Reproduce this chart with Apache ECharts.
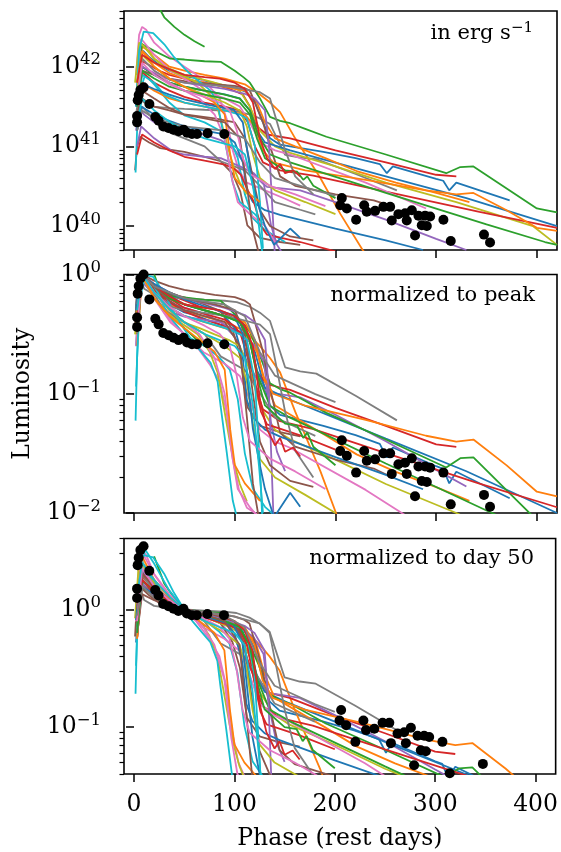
<!DOCTYPE html>
<html><head><meta charset="utf-8">
<script src="https://cdn.jsdelivr.net/npm/echarts@6/dist/echarts.min.js"></script>
<style>html,body{margin:0;padding:0;background:#fff}#c{width:561px;height:852px}</style>
</head><body><div id="c"></div>
<script>
// ---------------- DATA (luminosity in units of 1e40 erg/s, phase in rest days) ----------------
const lumUnitExp = 40;
const sn01 = [[2,39.8],[6,141],[9,158],[15,132],[25,105],[35,89],[50,76],[60,72.4],[72,66],[85,60],[100,55],[112,47.9],[120,35.5],[128,20],[135,12.6],[145,10.5],[155,10],[188,8.5],[220,7.1],[244,6.0],[251,4.6],[257,5.6],[300,3.9],[307,3.7],[313,2.8],[320,3.5],[373,2.1]];
const sn02 = [[3,50],[8,178],[15,158],[25,126],[35,100],[50,89],[70,79],[90,71],[110,60],[125,44.7],[135,35.5],[145,26.9],[160,12.6],[185,4.0],[205,1.41],[227,0.5],[240,0.32]];
const sn03 = [[20,708],[30,417],[40,316],[50,251],[60,209],[70,178]];
const sn04 = [[3,39.8],[8,117],[15,105],[25,89],[35,79],[50,71],[65,63],[80,60],[95,52.5],[108,44.7],[115,31.6],[122,17.8],[132,14.1],[145,13.2],[155,12.6],[200,8.9],[250,6.3],[300,4.4],[320,4.2]];
const sn05 = [[2,15.8],[5,30],[10,25],[20,20],[36,17],[50,15.8],[70,14],[86,12],[100,9],[108,6.5],[122,4.0],[132,3.1],[165,2.8],[200,2.0],[250,1.2],[300,0.69],[330,0.5]];
const sn06 = [[1,5.0],[3,10],[6,13.2],[15,11.2],[26,9.5],[40,8.9],[50,8.5],[70,7.4],[86,6.5],[98,4.5],[105.5,2.7],[112.5,1.02],[125,0.71],[145,0.63],[165,0.58]];
const sn07 = [[2,79],[5,251],[8,316],[12,290],[20,200],[35,135],[50,100],[62,79],[75,56],[85,40],[92,22],[98,8.9],[104,5.0],[112,3.5],[130,2.8],[150,2.2],[165,1.8]];
const sn08 = [[2,25],[5,46.8],[10,35.5],[20,31.6],[35,30.2],[50,29.5],[70,28.8],[90,28.2],[102,27.5],[115,25.1],[125,22.4],[135,19.1],[142,12.6],[150,7.8],[165,7.2],[181,6.9],[220,4.5],[261,2.8]];
const sn09 = [[3,63],[7,200],[20,126],[35,95],[50,79],[65,71],[80,63],[95,56],[105,50],[115,31.6],[125,15.8],[140,10],[155,8.3],[200,5.6],[250,3.5],[320,2.0],[396,1.0],[420,0.58]];
const sn10 = [[1.5,4.7],[3,15.8],[6,50],[11,79],[20,60],[35,35.5],[50,24.5],[70,20],[85,15.8],[95,12.6],[103,7.1],[110,2.5],[118,1.26],[130,0.89],[150,0.63]];
const sn11 = [[3,31.6],[8,100],[20,79],[35,63],[50,56],[70,50],[90,45],[105,40],[115,28.2],[122,15.8],[130,11.2],[155,8.9],[250,4.2],[330,2.24],[420,1.0]];
const sn12 = [[3,39.8],[8,158],[20,112],[35,83],[50,71],[70,63],[90,56],[110,50],[122,35.5],[130,20],[140,12.6],[160,10],[190,7.1],[221,4.9],[260,3.5],[300,2.6],[333,2.0]];
const sn13 = [[3,79],[8,191],[20,158],[36,126],[50,123],[70,117],[86,115],[100,89],[108.5,74],[115,63],[125,40],[135,23.4],[145,20.9],[155,19.5],[170,16.6],[191,13.2],[250,7.9],[310,4.6],[324,5.5],[337,5.6],[400,1.66],[420,1.48]];
const sn14 = [[3,31.6],[8,85],[20,63],[35,50],[50,41.7],[70,35.5],[90,31.6],[105,28.2],[113,20],[120,10],[128,6.3],[145,5.0],[178,4.3],[250,2.7],[343,1.5],[420,0.95]];
const sn15 = [[3,10],[7,17.8],[20,12.6],[39,8.5],[50,7.9],[70,7.4],[86,7.1],[105,5.6],[119,4.6],[129,3.3],[136,1.02],[142,0.58],[150,0.4]];
const sn16 = [[3,39.8],[8,89],[20,79],[35,71],[50,66],[65,63],[80,60],[100,57.5],[110,53.7],[115,50],[120,35.5],[128,20],[135,10],[145,4.2],[160,3.2],[200,2.5],[238,2.1],[258,1.74]];
const sn17 = [[3,79],[7,224],[20,141],[36,89],[50,71],[69,50],[90,40],[105,31.6],[115,20],[125,11.2],[140,8.9],[155,7.9],[230,3.5],[290,1.66]];
const sn18 = [[3,15.8],[8,31.6],[30,15.8],[50,12.6],[70,10],[86,6.5],[110,5.0],[125,3.2],[140,2.0],[165,1.6],[180,1.4]];
const sn19 = [[1,63],[5,200],[10,180],[20,126],[30,100],[40,85],[50,75],[63,63],[75,45],[83,30],[90,14],[95,8],[100,5.0],[105,3.5],[112,2.5]];
const sn20 = [[2,31.6],[5,158],[9.5,275],[19,263],[30,191],[39,135],[50,95],[59,74],[70,57.5],[76,50],[83,34.7],[86,21.4],[92,8.9],[98,3.5],[105,2.0],[120,1.41],[130,1.0]];
const sn21 = [[3,15.8],[7,31.6],[20,25.1],[35,20.9],[50,17.8],[70,15.8],[90,14.1],[100,11.2],[108,6.3],[112,2.8],[118,2.0],[130,1.58],[145,1.38],[200,0.93],[250,0.66],[287,0.5]];
const sn22 = [[3,20],[8,63],[20,50],[35,40],[50,35.5],[70,31.6],[90,28.2],[110,25.1],[120,17.8],[128,8.9],[138,6.3],[170,5.0],[230,3.8],[290,2.8],[320,2.5],[337,2.6],[370,1.58],[400,0.95],[420,0.87]];
const sn23 = [[3,39.8],[8,100],[20,79],[35,63],[50,56],[70,50],[90,44.7],[105,39.8],[115,28.2],[123,14.1],[135,7.9],[155,6.3],[250,2.6],[350,1.05],[408,0.63],[420,0.58]];
const sn24 = [[3,7.9],[8,14.1],[20,11.2],[35,8.9],[50,7.4],[70,6.6],[90,5.9],[100,5.2],[106,4.4],[113,2.8],[119,2.0],[126,1.0],[132,0.78],[165,0.63],[200,0.48]];
const sn25 = [[3,39.8],[8,100],[20,83],[35,71],[50,63],[70,57.5],[90,52.5],[110,45.7],[120,39.8],[130,28.2],[134,10],[137,2.0],[140,0.4]];
const sn26 = [[3,25.1],[8,39.8],[20,31.6],[35,28.2],[50,25.1],[80,22.4],[100,20],[110,12.6],[118,4.0],[125,1.58],[135,1.0],[155,0.74],[178,0.66]];
const sn27 = [[3,50],[8,126],[20,89],[35,63],[50,50],[65,39.8],[80,25.1],[90,12.6],[97,4.0],[103,2.0],[115,1.41],[130,1.0],[140,0.63]];
const sn28 = [[3,39.8],[8,126],[20,89],[36,67.6],[50,63],[70,60],[95,56],[125,47.9],[135,39.8],[142,20],[150,8.9],[160,4.2],[178,2.5]];
const sn29 = [[3,50],[8,141],[20,100],[35,71],[50,56],[70,44.7],[90,35.5],[105,28.2],[112,17.8],[118,7.9],[125,4.0],[140,2.8],[170,2.0],[200,1.41]];
const sn30 = [[3,31.6],[8,79],[20,63],[30,44.7],[50,35.5],[70,31.6],[90,28.2],[105,25.1],[112,22.4],[120,10],[125,2.0],[128,0.52]];
const sn31 = [[2,31.6],[5,63],[20,52.5],[35,44.7],[50,38.9],[75,33],[99,28.8],[108,20],[113,7.9],[118,3.2],[125,1.58],[130,1.0],[139,0.58],[155,0.93],[165,0.71]];
const sn32 = [[3,63],[8,158],[20,100],[35,71],[50,56],[65,44.7],[80,35.5],[90,25.1],[95.5,7.9],[100,4.0],[110,2.8],[125,2.0]];
const sn33 = [[3,31.6],[8,89],[20,71],[35,56],[50,50],[70,44.7],[90,39.8],[105,35.5],[115,25.1],[122,12.6],[130,7.1],[150,5.0],[162,4.8],[168,3.8],[172,4.2],[178,3.2],[200,2.24]];
const sn34 = [[3,63],[8,141],[20,112],[35,93],[50,79],[70,74],[85,71],[100,63],[110,52.5],[118,35.5],[125,12.6],[132,7.1],[140,5.2],[145,6.0],[150,4.6],[158,5.0],[165,4.2]];
const sn35 = [[3,25.1],[8,50],[20,39.8],[35,30.2],[50,25.1],[70,22.4],[90,20],[105,12.6],[112,3.2],[118,0.89],[124,0.45]];
const sn36 = [[3,39.8],[8,112],[20,79],[35,60],[50,50],[70,41.7],[85,35.5],[95,28.2],[102,15.8],[108,7.1],[115,4.5],[135,3.2],[160,2.5],[190,1.78]];
const sn37 = [[3,15.8],[8,28.2],[20,22.4],[50,17.8],[90,15.8],[110,12.6],[125,6.3],[140,4.0],[180,2.8],[200,2.4]];
const sn38 = [[3,20],[8,39.8],[20,28.2],[36,20],[50,15.8],[70,12.6],[85,11.2],[100,10],[110,7.9],[118,3.2],[124,1.0],[128,0.4]];

// black points (highlighted object)
const dotPhase = [3.0,3.0,3.6,4.6,6.3,9.5,15.2,21.1,24.4,29,34.3,39.3,44.2,49.2,52.6,57.5,62.5,73,89.6,
  206.3,204.7,211.3,220.5,228.5,231.1,239.4,247.6,254.3,255.9,262.5,269.1,270.8,275.8,279,282.4,285.7,289,290.7,294,307.2,314.5,347.5,353.5];
const dotLum = [20,24,38,44,51,55,34,23.4,21,17.8,17,16.2,15.5,16.2,14.8,14.3,14.3,14.6,14.3,
  2.24,1.82,1.66,1.2,1.82,1.51,1.55,1.74,1.74,1.17,1.41,1.45,1.17,1.58,0.76,1.35,1.02,1.35,1.0,1.32,1.2,0.65,0.78,0.62];
const dotLumDay50 = 16;
const normDay = 50;

// axis tick values
const xTicks = [0, 100, 200, 300, 400];
const p1Major = [1, 10, 100];
const p1Minor = [0.5,0.6,0.7,0.8,0.9,2,3,4,5,6,7,8,9,20,30,40,50,60,70,80,90,200,300,400,500];
const p2Major = [0.01, 0.1, 1];
const p2Minor = [0.02,0.03,0.04,0.05,0.06,0.07,0.08,0.09,0.2,0.3,0.4,0.5,0.6,0.7,0.8,0.9];
const p3Major = [0.1, 1];
const p3Minor = [0.04,0.05,0.06,0.07,0.08,0.09,0.2,0.3,0.4,0.5,0.6,0.7,0.8,0.9,2,3,4];

// ---------------- STYLE ----------------
const tab10 = {blue:'#1f77b4',orange:'#ff7f0e',green:'#2ca02c',red:'#d62728',purple:'#9467bd',brown:'#8c564b',pink:'#e377c2',gray:'#7f7f7f',olive:'#bcbd22',cyan:'#17becf'};
const cycle = ['blue','orange','green','red','purple','brown','pink','gray','olive','cyan'];
const curves = [sn01,sn02,sn03,sn04,sn05,sn06,sn07,sn08,sn09,sn10,sn11,sn12,sn13,sn14,sn15,sn16,sn17,sn18,sn19,sn20,
  sn21,sn22,sn23,sn24,sn25,sn26,sn27,sn28,sn29,sn30,sn31,sn32,sn33,sn34,sn35,sn36,sn37,sn38];
const curveColorNames = cycle.concat(cycle, cycle, ['blue','orange','green','red','brown','pink','gray','cyan']);

const FONT = 'DejaVu Serif';
const LBL = 23.5, SUP = 16.5, ANN = 21;

const chart = echarts.init(document.getElementById('c'), null, {renderer:'canvas'});

const grids = [
  {left:124, top:11, width:433, height:239},
  {left:124, top:274.5, width:433, height:238.5},
  {left:124, top:538.5, width:433, height:239}
].map(g => Object.assign(g, {show:true, borderColor:'#000', borderWidth:1.6, backgroundColor:'transparent', containLabel:false}));

function supLabel(exp) {
  const e = String(exp).replace('-', '\u2212');
  return '{b|10}{s|' + e + '}';
}
const richSup = {
  b: {fontFamily: FONT, fontSize: LBL, lineHeight: 30, color: '#000'},
  s: {fontFamily: FONT, fontSize: SUP, lineHeight: 11, verticalAlign: 'top', color: '#000'}
};

const xAxes = [0,1,2].map(g => ({
  type:'value', gridIndex:g, min:-10, max:420,
  axisLine:{show:false}, splitLine:{show:false},
  axisTick:{show:true, customValues:xTicks, length:8, lineStyle:{color:'#000', width:1.5}},
  axisLabel:{show: g===2, customValues:xTicks, margin:19, fontFamily:FONT, fontSize:LBL, lineHeight:24, color:'#000'},
  name: g===2 ? 'Phase (rest days)' : '', nameLocation:'middle', nameGap:53,
  nameTextStyle:{fontFamily:FONT, fontSize:LBL, lineHeight:24, color:'#000'}
}));

const yDefs = [
  {min:0.5, max:500, major:p1Major, minor:p1Minor, expOffset:lumUnitExp},
  {min:0.01, max:1, major:p2Major, minor:p2Minor, expOffset:0},
  {min:0.04, max:4, major:p3Major, minor:p3Minor, expOffset:0}
];
const yAxes = [];
yDefs.forEach((d, g) => {
  yAxes.push({
    type:'log', logBase:10, gridIndex:g, position:'left', min:d.min, max:d.max,
    axisLine:{show:false}, splitLine:{show:false},
    axisTick:{show:true, customValues:d.major, length:8, lineStyle:{color:'#000', width:1.5}},
    axisLabel:{show:true, customValues:d.major, margin:23, align:'right',
      formatter: v => supLabel(Math.round(Math.log10(v)) + d.expOffset), rich: richSup},
    name: g===1 ? 'Luminosity' : '', nameLocation:'middle', nameGap:89, nameRotate:90,
    nameTextStyle:{fontFamily:FONT, fontSize:LBL, color:'#000'}
  });
  yAxes.push({
    type:'log', logBase:10, gridIndex:g, position:'left', min:d.min, max:d.max,
    axisLine:{show:false}, splitLine:{show:false},
    axisTick:{show:true, customValues:d.minor, length:4.5, lineStyle:{color:'#000', width:1.2}},
    axisLabel:{show:false}
  });
});

function peakOf(c) { return Math.max.apply(null, c.map(p => p[1])); }
function dayValueOf(c, day) { const p = c.find(q => q[0] === day); return p ? p[1] : null; }

const series = [];
[0,1,2].forEach(g => {
  curves.forEach((c, i) => {
    let ref = 1;
    if (g === 1) ref = peakOf(c);
    if (g === 2) ref = dayValueOf(c, normDay);
    const col = tab10[curveColorNames[i]];
    series.push({
      type:'line', xAxisIndex:g, yAxisIndex:2*g, showSymbol:false, symbol:'none',
      data: c.map(p => [p[0], p[1] / ref]),
      lineStyle:{width:1.8, color:col}, itemStyle:{color:col},
      silent:true, clip:true, z:2
    });
  });
  let dref = 1;
  if (g === 1) dref = Math.max.apply(null, dotLum);
  if (g === 2) dref = dotLumDay50;
  series.push({
    type:'scatter', xAxisIndex:g, yAxisIndex:2*g, symbolSize:10,
    data: dotPhase.map((t, k) => [t, dotLum[k] / dref]),
    itemStyle:{color:'#000', opacity:1}, silent:true, z:5, clip:true
  });
});

const annRich = {
  a: {fontFamily:FONT, fontSize:ANN, lineHeight:26, color:'#000'},
  e: {fontFamily:FONT, fontSize:15, lineHeight:9, verticalAlign:'top', color:'#000'}
};
const graphics = [
  {type:'text', x:533, y:34, style:{text:'{a|in erg s}{e|\u22121}', rich:annRich, align:'right', verticalAlign:'middle', fontFamily:FONT, fontSize:ANN, fill:'#000'}},
  {type:'text', x:535, y:296, style:{text:'normalized to peak', align:'right', verticalAlign:'middle', fontFamily:FONT, fontSize:ANN, fill:'#000'}},
  {type:'text', x:534, y:559, style:{text:'normalized to day 50', align:'right', verticalAlign:'middle', fontFamily:FONT, fontSize:ANN, fill:'#000'}}
];

chart.setOption({
  animation:false,
  backgroundColor:'#fff',
  grid: grids,
  xAxis: xAxes,
  yAxis: yAxes,
  series: series,
  graphic: graphics
});
</script></body></html>
